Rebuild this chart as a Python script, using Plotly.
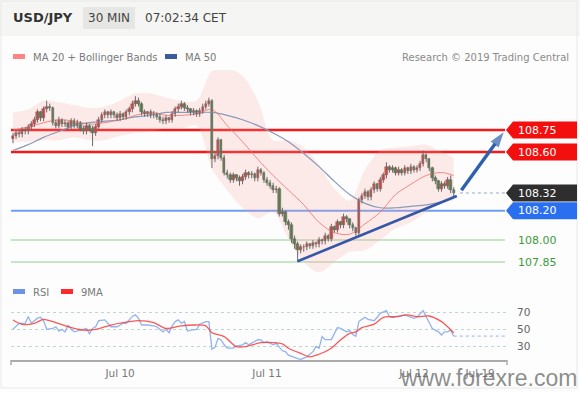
import plotly.graph_objects as go

# ---------------- data ----------------
idx = list(range(145))
opens = [108.69,108.71,108.73,108.72,108.75,108.74,108.77,108.79,108.82,108.87,
         108.83,108.89,108.91,108.90,108.80,108.78,108.82,108.79,108.80,108.77,
         108.81,108.78,108.80,108.76,108.74,108.78,108.76,108.73,108.77,108.82,
         108.85,108.87,108.85,108.87,108.85,108.83,108.86,108.84,108.87,108.89,
         108.93,108.95,108.93,108.87,108.86,108.87,108.85,108.86,108.84,108.82,
         108.81,108.83,108.82,108.86,108.89,108.91,108.93,108.90,108.89,108.87,
         108.88,108.86,108.88,108.91,108.93,108.95,108.55,108.57,108.68,108.56,
         108.46,108.44,108.41,108.44,108.42,108.40,108.43,108.46,108.44,108.45,
         108.42,108.48,108.46,108.41,108.39,108.37,108.34,108.35,108.18,108.19,
         108.12,108.10,108.01,107.97,107.93,107.95,107.95,107.97,107.96,107.98,
         107.97,108.00,107.99,108.03,108.01,108.09,108.07,108.12,108.10,108.16,
         108.14,108.10,108.08,108.05,108.27,108.30,108.33,108.29,108.34,108.38,
         108.35,108.41,108.44,108.50,108.48,108.49,108.46,108.48,108.46,108.49,
         108.47,108.50,108.48,108.49,108.52,108.58,108.55,108.49,108.42,108.40,
         108.35,108.38,108.37,108.41,108.34]
closes = [108.71,108.73,108.72,108.75,108.74,108.77,108.79,108.82,108.87,108.83,
          108.89,108.91,108.90,108.80,108.78,108.82,108.79,108.80,108.77,108.81,
          108.78,108.80,108.76,108.74,108.78,108.76,108.73,108.77,108.82,108.85,
          108.87,108.85,108.87,108.85,108.83,108.86,108.84,108.87,108.89,108.93,
          108.95,108.93,108.87,108.86,108.87,108.85,108.86,108.84,108.82,108.81,
          108.83,108.82,108.86,108.89,108.91,108.93,108.90,108.89,108.87,108.88,
          108.86,108.88,108.91,108.93,108.95,108.55,108.57,108.68,108.56,108.46,
          108.44,108.41,108.44,108.42,108.40,108.43,108.46,108.44,108.45,108.42,
          108.48,108.46,108.41,108.39,108.37,108.34,108.35,108.18,108.19,108.12,
          108.10,108.01,107.97,107.93,107.95,107.95,107.97,107.96,107.98,107.97,
          108.00,107.99,108.03,108.01,108.09,108.07,108.12,108.10,108.16,108.14,
          108.10,108.08,108.05,108.27,108.30,108.33,108.29,108.34,108.38,108.35,
          108.41,108.44,108.50,108.48,108.49,108.46,108.48,108.46,108.49,108.47,
          108.50,108.48,108.49,108.52,108.58,108.55,108.49,108.42,108.40,108.35,
          108.38,108.37,108.41,108.34,108.32]
highs = [108.73,108.75,108.75,108.77,108.77,108.79,108.81,108.84,108.89,108.88,
         108.91,108.95,108.93,108.91,108.82,108.84,108.83,108.82,108.81,108.83,
         108.83,108.82,108.81,108.78,108.80,108.79,108.78,108.79,108.84,108.87,
         108.89,108.88,108.89,108.88,108.87,108.88,108.87,108.89,108.91,108.95,
         108.98,108.97,108.94,108.89,108.88,108.89,108.88,108.87,108.86,108.84,
         108.85,108.84,108.88,108.91,108.93,108.95,108.94,108.92,108.90,108.90,
         108.89,108.90,108.93,108.95,108.97,108.96,108.60,108.70,108.69,108.58,
         108.48,108.46,108.46,108.45,108.44,108.45,108.48,108.47,108.47,108.46,
         108.50,108.49,108.47,108.43,108.41,108.39,108.37,108.36,108.22,108.20,
         108.14,108.12,108.03,107.99,107.97,107.97,107.99,107.98,108.00,107.99,
         108.02,108.01,108.05,108.04,108.11,108.10,108.14,108.13,108.18,108.17,
         108.15,108.12,108.09,108.29,108.32,108.35,108.34,108.36,108.40,108.39,
         108.43,108.46,108.53,108.51,108.51,108.50,108.50,108.49,108.51,108.50,
         108.52,108.51,108.51,108.54,108.61,108.59,108.56,108.50,108.44,108.41,
         108.40,108.40,108.43,108.44,108.36]
lows = [108.66,108.69,108.70,108.70,108.72,108.72,108.75,108.77,108.80,108.81,
        108.81,108.87,108.88,108.78,108.76,108.76,108.77,108.77,108.75,108.75,
        108.76,108.76,108.74,108.72,108.72,108.74,108.64,108.71,108.75,108.80,
        108.83,108.83,108.83,108.83,108.81,108.81,108.82,108.82,108.85,108.87,
        108.91,108.91,108.85,108.84,108.84,108.83,108.83,108.82,108.80,108.79,
        108.79,108.80,108.80,108.84,108.87,108.89,108.88,108.87,108.85,108.85,
        108.84,108.84,108.86,108.89,108.91,108.49,108.53,108.55,108.54,108.44,
        108.42,108.39,108.39,108.40,108.37,108.38,108.41,108.42,108.42,108.40,
        108.40,108.44,108.39,108.37,108.35,108.32,108.32,108.16,108.16,108.10,
        108.07,107.98,107.94,107.85,107.91,107.92,107.93,107.94,107.94,107.95,
        107.95,107.97,107.97,107.99,107.99,108.05,108.05,108.08,108.08,108.12,
        108.08,108.06,108.03,108.03,108.25,108.28,108.27,108.27,108.32,108.33,
        108.33,108.39,108.42,108.46,108.46,108.44,108.44,108.44,108.44,108.45,
        108.45,108.46,108.46,108.47,108.50,108.53,108.47,108.40,108.38,108.33,
        108.33,108.35,108.35,108.32,108.29]

band_idx = [0,5,10,15,20,25,30,35,40,45,50,55,60,65,70,75,80,85,90,95,
            100,105,110,115,120,125,130,135,140,144]
ma20 = [108.75,108.77,108.80,108.82,108.81,108.79,108.80,108.82,108.85,108.87,
        108.85,108.85,108.86,108.89,108.78,108.67,108.55,108.44,108.34,108.24,
        108.12,108.05,108.04,108.11,108.19,108.31,108.38,108.44,108.46,108.44]
upper = [108.87,108.89,108.95,108.94,108.92,108.90,108.91,108.95,109.00,109.00,
         108.97,108.95,108.95,109.15,109.17,109.12,108.95,108.68,108.68,108.63,
         108.51,108.35,108.27,108.48,108.61,108.63,108.64,108.65,108.60,108.56]
lower = [108.67,108.67,108.68,108.68,108.70,108.68,108.68,108.71,108.73,108.74,
         108.76,108.76,108.78,108.49,108.34,108.22,108.15,108.19,108.01,107.85,
         107.78,107.85,107.92,107.93,108.00,108.08,108.12,108.19,108.25,108.27]
ma50 = [108.61,108.65,108.70,108.74,108.78,108.80,108.81,108.82,108.84,108.85,
        108.87,108.87,108.87,108.87,108.85,108.82,108.78,108.73,108.67,108.59,
        108.50,108.40,108.31,108.25,108.22,108.22,108.23,108.24,108.26,108.29]

rsi_idx = [0,2,4,5,6,8,9,10,11,13,14,15,16,17,18,19,20,22,24,25,26,27,28,30,31,32,
           34,36,37,39,40,41,42,44,46,47,49,50,51,52,53,54,55,56,57,58,60,61,63,64,
           65,66,67,68,69,70,72,73,75,76,77,79,80,81,82,83,85,86,88,89,
           90,93,94,96,98,99,100,101,102,104,106,107,109,110,111,112,113,114,115,116,
           118,119,120,122,123,124,126,128,130,131,132,134,135,137,139,140,141,142,143,144]
rsi_val = [50,57,57,65,57,63,64,60,50,51,53,48,50,47,55,50,47,49,51,45,51,53,60,61,57,53,
           53,57,57,65,67,63,55,55,54,53,47,50,46,54,59,61,57,59,48,49,50,56,59,59,
           27,29,39.5,37.6,32,28,28,30.6,32,34.5,32,35.6,38,37.6,34.5,35.6,32,33.7,25,24,
           20,16,15,18,24,30,28,41.5,38,38,52,51,47,48.5,44,42,59,61.6,64,61.6,
           60,64,68.6,71.7,64.7,64,64.7,66.7,64,62.8,64,71.7,64.7,51,47,43.4,47,47,49,42]
ma9_idx = [0,3,7,10,13,18,23,27,32,36,41,46,50,55,59,63,65,69,73,76,81,85,88,90,
           94,97,100,104,107,110,112,114,118,121,125,129,132,136,140,142,144]
ma9_val = [60.9,55.8,57,61.6,59,53,49,50,55,57.8,60,57.8,51,54,55,54,46,41.5,29.8,29.8,
           34.5,34.5,33,28,22,18,21,28,37.6,45.3,47,52,56,64,64.7,66.7,64.7,65.5,59,53,46]

levels = [108.75, 108.60, 108.32, 108.20, 108.00, 107.85]
level_text = ["108.75", "108.60", "108.32", "108.20", "108.00", "107.85"]
level_box = ["#f40f0f", "#f40f0f", "#2e2e2e", "#2a6ff0", None, None]
line_levels = [108.75, 108.60, 108.20, 108.00, 107.85]
line_colors = ["#f21a1a", "#f21a1a", "#6f9ef2", "#b6dcb6", "#b6dcb6"]
line_widths = [2.4, 2.4, 2.0, 1.6, 1.6]

tick_idx = [35, 83, 131, 152.6]
tick_text = ["Jul 10", "Jul 11", "Jul 12", "Jul 19"]
rsi_ticks = [30, 50, 70]

trend_idx = [93, 145]
trend_val = [107.855, 108.30]
arrow_idx = [146.5, 160.3]
arrow_val = [108.34, 108.735]

# ---------------- geometry helpers ----------------
W, H = 580, 393
ML, MR = 11, 73
PW = W - ML - MR
def xp(px):
    return (px - ML) / PW
def yp(py):
    return 1 - py / H

FONT = "DejaVu Sans"
fig = go.Figure()

# Bollinger band fill
fig.add_trace(go.Scatter(x=band_idx, y=upper, mode="lines", line=dict(width=0, shape="spline", smoothing=0.9),
                         hoverinfo="skip", showlegend=False))
fig.add_trace(go.Scatter(x=band_idx, y=lower, mode="lines", line=dict(width=0, shape="spline", smoothing=0.9),
                         fill="tonexty", fillcolor="rgba(255,160,160,0.2)", hoverinfo="skip", showlegend=False))
# MA50 and MA20
fig.add_trace(go.Scatter(x=band_idx, y=ma50, mode="lines",
                         line=dict(color="#8a9ab8", width=1.2, shape="spline", smoothing=0.9),
                         hoverinfo="skip", showlegend=False))
fig.add_trace(go.Scatter(x=band_idx, y=ma20, mode="lines",
                         line=dict(color="rgba(240,110,110,0.8)", width=1.0, shape="spline", smoothing=0.9),
                         hoverinfo="skip", showlegend=False))

# candles: wicks + bodies
wx, wy = [], []
for i, hi, lo in zip(idx, highs, lows):
    wx += [i, i, None]
    wy += [hi, lo, None]
fig.add_trace(go.Scatter(x=wx, y=wy, mode="lines", line=dict(color="#6a6a6a", width=1),
                         hoverinfo="skip", showlegend=False, connectgaps=False))
up_i = [i for i in idx if closes[i] >= opens[i]]
dn_i = [i for i in idx if closes[i] < opens[i]]
fig.add_trace(go.Bar(x=up_i, base=[opens[i] for i in up_i],
                     y=[max(closes[i] - opens[i], 0.004) for i in up_i], width=0.8,
                     marker=dict(color="#e23a33", line=dict(color="#8c3b3b", width=0.5)),
                     hoverinfo="skip", showlegend=False))
fig.add_trace(go.Bar(x=dn_i, base=[closes[i] for i in dn_i],
                     y=[opens[i] - closes[i] for i in dn_i], width=0.8,
                     marker=dict(color="#3c8a3c", line=dict(color="#35533a", width=0.5)),
                     hoverinfo="skip", showlegend=False))

# trend line and arrow
fig.add_trace(go.Scatter(x=trend_idx, y=trend_val, mode="lines", line=dict(color="#3557a5", width=2.6),
                         hoverinfo="skip", showlegend=False))
fig.add_trace(go.Scatter(x=arrow_idx, y=arrow_val, mode="lines+markers",
                         line=dict(color="#2f60ae", width=3.4),
                         marker=dict(symbol=["circle", "arrow"], size=[0, 16], angleref="previous",
                                     color="#2f60ae", line=dict(width=0)),
                         hoverinfo="skip", showlegend=False, cliponaxis=False))

# RSI panel
fig.add_trace(go.Scatter(x=rsi_idx, y=rsi_val, mode="lines", xaxis="x2", yaxis="y2",
                         line=dict(color="#93b2f0", width=1.3), hoverinfo="skip", showlegend=False))
fig.add_trace(go.Scatter(x=ma9_idx, y=ma9_val, mode="lines", xaxis="x2", yaxis="y2",
                         line=dict(color="rgba(250,60,60,0.85)", width=1.3, shape="spline", smoothing=0.8),
                         hoverinfo="skip", showlegend=False))

shapes = []
shapes.append(dict(type="rect", xref="paper", yref="paper", x0=xp(0), x1=xp(580), y0=yp(36), y1=yp(0),
                   fillcolor="#f5f5f3", line=dict(width=0), layer="below"))
shapes.append(dict(type="rect", xref="paper", yref="paper", x0=xp(83), x1=xp(135), y0=yp(29), y1=yp(7),
                   fillcolor="#e6e6e4", line=dict(width=0)))
shapes.append(dict(type="rect", xref="paper", yref="paper", x0=xp(1), x1=xp(577), y0=yp(388), y1=yp(1),
                   fillcolor="rgba(0,0,0,0)", line=dict(color="#e8e8e8", width=1)))
for lv, c, w in zip(line_levels, line_colors, line_widths):
    shapes.append(dict(type="line", xref="paper", yref="y", x0=0, x1=xp(505), y0=lv, y1=lv,
                       line=dict(color=c, width=w), layer="below"))
shapes.append(dict(type="line", xref="x", yref="y", x0=146, x1=161, y0=levels[2], y1=levels[2],
                   line=dict(color="#b9c4d9", width=1.5, dash="dot")))
shapes.append(dict(type="line", xref="x2", yref="y2", x0=rsi_idx[-1], x1=161, y0=rsi_val[-1], y1=rsi_val[-1],
                   line=dict(color="#a9c1f0", width=1.3, dash="dot")))
h = 8.5 / 146.7
for lv, c in zip(levels, level_box):
    if c is None:
        continue
    tip, b0, b1 = xp(506), xp(513), xp(577)
    path = f"M {tip},{lv} L {b0},{lv+h} L {b1},{lv+h} L {b1},{lv-h} L {b0},{lv-h} Z"
    shapes.append(dict(type="path", xref="paper", yref="y", path=path, fillcolor=c, line=dict(width=0)))
for px in (11, 507):
    shapes.append(dict(type="line", xref="paper", yref="paper", x0=xp(px), x1=xp(px), y0=yp(360), y1=yp(365),
                       line=dict(color="#aaaaaa", width=1.5)))
for (x0, x1, y0, y1, c) in [(13, 25, 54, 59, "#ff8585"), (165, 177, 54, 59, "#3a5c9e"),
                            (13, 25, 289, 294, "#6e92e6"), (61, 73, 289, 294, "#ff2a2a")]:
    shapes.append(dict(type="rect", xref="paper", yref="paper", x0=xp(x0), x1=xp(x1), y0=yp(y1), y1=yp(y0),
                       fillcolor=c, line=dict(width=0)))

ann = []
def txt(px, py, s, size, color, anchor="left", bold=False, family=FONT):
    ann.append(dict(xref="paper", yref="paper", x=xp(px), y=yp(py), text=(f"<b>{s}</b>" if bold else s),
                    showarrow=False, xanchor=anchor, yanchor="middle",
                    font=dict(family=family, size=size, color=color)))

txt(11, 18, "USD/JPY", 13, "#333333", bold=True)
txt(109, 18, "30 MIN", 12, "#444444", anchor="center")
txt(143, 18, "07:02:34 CET", 12, "#444444")
txt(31, 57, "MA 20 + Bollinger Bands", 10, "#7a7a7a")
txt(183, 57, "MA 50", 10, "#7a7a7a")
txt(571, 57, "Research © 2019 Trading Central", 10, "#8a8a8a", anchor="right")
txt(31, 292, "RSI", 10, "#7a7a7a")
txt(79, 292, "9MA", 10, "#7a7a7a")

for lv, t, c in zip(levels, level_text, level_box):
    ann.append(dict(xref="paper", yref="y", x=xp(516), y=lv, text=t, showarrow=False,
                    xanchor="left", yanchor="middle",
                    font=dict(family=FONT, size=11, color=("#ffffff" if c else "#3d9a3d"))))

txt(488, 378, "www.forexre.com", 23, "rgba(110,110,110,0.78)", anchor="center", family="Liberation Sans")

fig.update_layout(
    width=W, height=H,
    margin=dict(l=ML, r=MR, t=0, b=0, autoexpand=False),
    paper_bgcolor="#fcfdfc", plot_bgcolor="#fcfdfc",
    showlegend=False, barmode="overlay", bargap=0,
    shapes=shapes, annotations=ann,
    xaxis=dict(range=[-0.65, 161.4], domain=[0, 1], anchor="y", visible=False, fixedrange=True),
    yaxis=dict(range=[107.782, 109.159], domain=[yp(272), yp(70)], anchor="x", visible=False, fixedrange=True),
    xaxis2=dict(range=[-0.65, 161.4], domain=[0, 1], anchor="y2", showgrid=False, zeroline=False,
                showline=True, linecolor="#aaaaaa", linewidth=2,
                tickmode="array", tickvals=tick_idx, ticktext=tick_text, ticks="",
                ticklabelstandoff=2,
                tickfont=dict(family=FONT, size=10.5, color="#777777")),
    yaxis2=dict(range=[14.3, 84.1], domain=[yp(360), yp(300)], anchor="x2", side="right",
                tickmode="array", tickvals=rsi_ticks, ticks="",
                showgrid=True, gridcolor="#bcd8cc", griddash="dot", gridwidth=1,
                zeroline=False, showline=False, ticklabelstandoff=9,
                tickfont=dict(family=FONT, size=10.5, color="#666666")),
)

fig.write_html("out.html", config={"displayModeBar": False},
               post_script="document.body.style.margin='0px';document.body.style.overflow='hidden';")
